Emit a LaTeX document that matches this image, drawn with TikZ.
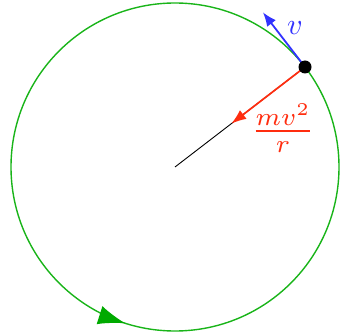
\documentclass[tikz,border=0pt]{standalone}
\usetikzlibrary{arrows.meta,decorations.markings}
\definecolor{circgreen}{RGB}{25,180,25}
\definecolor{tipgreen}{RGB}{0,170,0}
\definecolor{forcered}{RGB}{255,45,15}
\definecolor{velblue}{RGB}{50,50,255}
\tikzset{
  orbit/.style={draw=circgreen,line width=1.4pt,
    postaction={decorate},
    decoration={markings,mark=at position 0.701 with {\arrow[tipgreen]{Latex[length=27pt,width=19pt]}}}},
  radius line/.style={draw=black,line width=0.9pt},
  force/.style={draw=forcered,line width=1.7pt,-{Latex[length=15pt,width=11pt]},forcered},
  velocity/.style={draw=velblue,line width=1.8pt,-{Latex[length=14pt,width=11pt]},velblue},
  particle/.style={circle,fill=black,inner sep=0pt,minimum size=13pt},
  lab/.style={inner sep=0pt}
}
\begin{document}
\begin{tikzpicture}[x=1pt,y=1pt]
\useasboundingbox (0,0) rectangle (340,335);
\coordinate (O) at (175,168);
\coordinate (P) at (305,268);
\coordinate (F) at (231.3,211.3);
\coordinate (V) at (262.9,322.7);
\path[orbit] (O) circle[radius=164];
\draw[radius line] (O) -- (P);
\draw[force] (P) -- (F);
\draw[velocity] (P) -- (V);
\node[particle] (m) at (P) {};
\node[lab,scale=3,text=velblue] (vl) at (295,307) {$v$};
\node[lab,scale=3.6,text=forcered] (fl) at (283,207) {$\frac{mv^{\scriptscriptstyle 2}}{r}$};
\end{tikzpicture}
\end{document}
